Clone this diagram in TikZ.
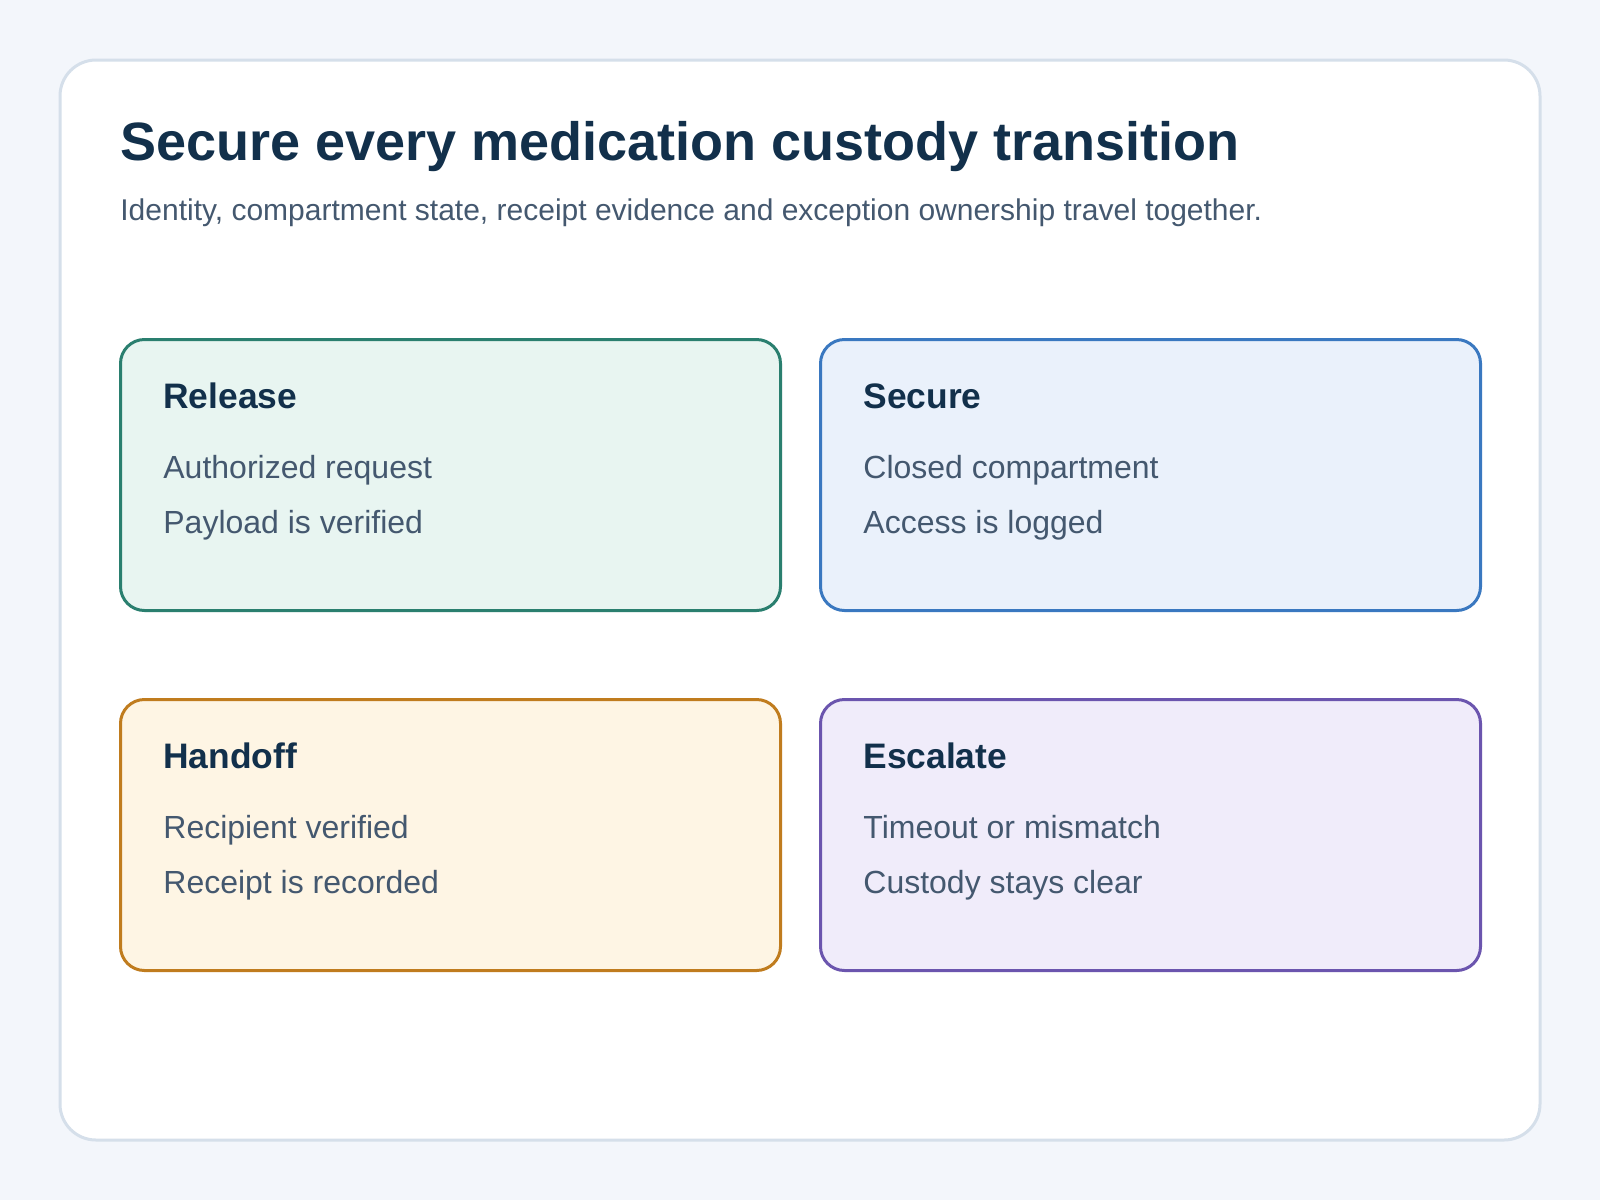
\documentclass[tikz,border=0pt]{standalone}
\usepackage{fontspec}
\setmainfont{Liberation Sans}
\definecolor{pagebg}{HTML}{F3F6FB}
\definecolor{cardline}{HTML}{D5DFEA}
\definecolor{ink}{HTML}{12304B}
\definecolor{muted}{HTML}{44586F}
\definecolor{relline}{HTML}{2A7F6F}\definecolor{relfill}{HTML}{E8F5F1}
\definecolor{secline}{HTML}{3A78C0}\definecolor{secfill}{HTML}{EAF1FB}
\definecolor{hanline}{HTML}{C07C1E}\definecolor{hanfill}{HTML}{FEF5E4}
\definecolor{escline}{HTML}{6B55AE}\definecolor{escfill}{HTML}{F0ECFA}
\tikzset{
  stagebox/.style={draw=#1line,fill=#1fill,line width=1.5pt,rounded corners=12pt,
    minimum width=330pt,minimum height=135.5pt,anchor=north west,inner sep=0pt},
  stagehead/.style={anchor=base west,inner sep=0pt,text=ink,font=\fontsize{17.7}{21}\selectfont\bfseries},
  stageline/.style={anchor=base west,inner sep=0pt,text=muted,font=\fontsize{16}{19}\selectfont},
}
\begin{document}
\begin{tikzpicture}[x=0.5pt,y=-0.5pt]
  % page and card
  \fill[pagebg] (0,0) rectangle (1600,1200);
  \draw[cardline,fill=white,line width=1.5pt,rounded corners=18pt] (60,60) rectangle (1540,1140);
  % heading
  \node[anchor=base west,inner sep=0pt,text=ink,font=\fontsize{27}{32}\selectfont\bfseries] (title) at (120,160)
    {Secure every medication custody transition};
  \node[anchor=base west,inner sep=0pt,text=muted,font=\fontsize{15}{18}\selectfont] (subtitle) at (120,220)
    {Identity, compartment state, receipt evidence and exception ownership travel together.};
  % release
  \node[stagebox=rel] (release) at (119,338) {};
  \node[stagehead] (releasehead) at (163,408) {Release};
  \node[stageline] (releaseone) at (163,478) {Authorized request};
  \node[stageline] (releasetwo) at (163,533) {Payload is verified};
  % secure
  \node[stagebox=sec] (secure) at (819,338) {};
  \node[stagehead] (securehead) at (863,408) {Secure};
  \node[stageline] (secureone) at (863,478) {Closed compartment};
  \node[stageline] (securetwo) at (863,533) {Access is logged};
  % handoff
  \node[stagebox=han] (handoff) at (119,698) {};
  \node[stagehead] (handoffhead) at (163,768) {Handoff};
  \node[stageline] (handoffone) at (163,838) {Recipient verified};
  \node[stageline] (handofftwo) at (163,893) {Receipt is recorded};
  % escalate
  \node[stagebox=esc] (escalate) at (819,698) {};
  \node[stagehead] (escalatehead) at (863,768) {Escalate};
  \node[stageline] (escalateone) at (863,838) {Timeout or mismatch};
  \node[stageline] (escalatetwo) at (863,893) {Custody stays clear};
\end{tikzpicture}
\end{document}
